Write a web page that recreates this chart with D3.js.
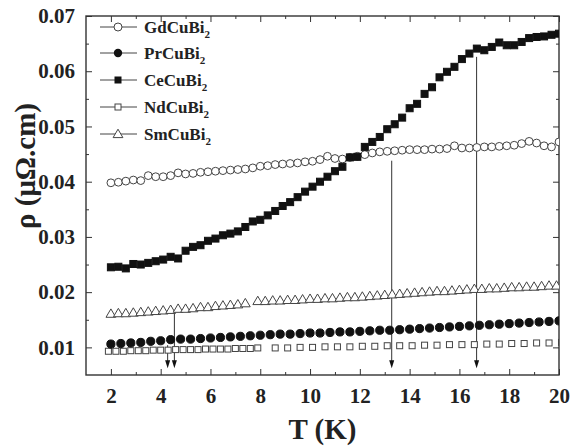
<!DOCTYPE html>
<html lang="en">
<head>
<meta charset="UTF-8" />
<title>rho vs T</title>
<style>
  body { margin: 0; background: #fff; }
  text { font-family: "Liberation Serif", "Times New Roman", serif; font-weight: bold; fill: #222; }
</style>
</head>
<body>
<script src="https://d3js.org/d3.v7.min.js"></script>
<script>
// data
const tStep03 = [2.0, 2.3, 2.6, 2.9, 3.2, 3.5, 3.8, 4.1, 4.4, 4.7, 5.0, 5.3, 5.6, 5.9, 6.2, 6.5, 6.8, 7.1, 7.4, 7.7,
  8.0, 8.3, 8.6, 8.9, 9.2, 9.5, 9.8, 10.1, 10.4, 10.7, 11.0, 11.3, 11.6, 11.9, 12.2, 12.5, 12.8, 13.1, 13.4, 13.7,
  14.0, 14.3, 14.6, 14.9, 15.2, 15.5, 15.8, 16.1, 16.4, 16.7, 17.0, 17.3, 17.6, 17.9, 18.2, 18.5, 18.8, 19.1, 19.4, 19.7, 20.0]

const rhoGd = [0.0398, 0.0399, 0.0401, 0.0403, 0.0402, 0.0411, 0.0409, 0.0409, 0.0411, 0.0416, 0.0414, 0.0415, 0.0417, 0.0418,
  0.0419, 0.0420, 0.0421, 0.0422, 0.0423, 0.0425, 0.0428, 0.0429, 0.0431, 0.0432, 0.0433, 0.0434, 0.0436, 0.0437, 0.0440,
  0.0446, 0.0442, 0.0441, 0.0444, 0.0446, 0.0449, 0.0452, 0.0454, 0.0455, 0.0456, 0.0457, 0.0458, 0.0458, 0.0458, 0.0459,
  0.0459, 0.0460, 0.0465, 0.0461, 0.0461, 0.0462, 0.0463, 0.0463, 0.0464, 0.0465, 0.0466, 0.0469, 0.0473, 0.0470, 0.0465,
  0.0463, 0.0472]

const rhoCe = [0.0245, 0.0246, 0.0243, 0.0251, 0.0250, 0.0253, 0.0256, 0.0259, 0.0264, 0.0261, 0.0275, 0.0282, 0.0285, 0.0293,
  0.0297, 0.0303, 0.0306, 0.0310, 0.0318, 0.0328, 0.0331, 0.0339, 0.0347, 0.0356, 0.0363, 0.0372, 0.0382, 0.0391, 0.0400,
  0.0409, 0.0419, 0.0427, 0.0444, 0.0445, 0.0463, 0.0472, 0.0481, 0.0495, 0.0504, 0.0516, 0.0533, 0.0541, 0.0559, 0.0571,
  0.0589, 0.0599, 0.0608, 0.0622, 0.0632, 0.0641, 0.0638, 0.0644, 0.0652, 0.0647, 0.0647, 0.0653, 0.0660, 0.0662, 0.0663,
  0.0666, 0.0668]

const tPr = [2.0, 2.4, 2.8, 3.2, 3.6, 4.0, 4.4, 4.8, 5.2, 5.6, 6.0, 6.4, 6.8, 7.2, 7.6, 8.0, 8.4, 8.8, 9.2, 9.6, 10.0, 10.4,
  10.8, 11.2, 11.6, 12.0, 12.4, 12.8, 13.2, 13.6, 14.0, 14.4, 14.8, 15.2, 15.6, 16.0, 16.4, 16.8, 17.2, 17.6, 18.0, 18.4,
  18.8, 19.2, 19.6, 20.0]
const rhoPr = [0.0106, 0.0107, 0.0108, 0.0109, 0.0111, 0.0112, 0.0114, 0.0115, 0.0115, 0.0116, 0.0117, 0.0118, 0.0119, 0.0120,
  0.0121, 0.0122, 0.0123, 0.0124, 0.0124, 0.0125, 0.0126, 0.0126, 0.0127, 0.0128, 0.0128, 0.0129, 0.0130, 0.0131, 0.0131,
  0.0132, 0.0133, 0.0134, 0.0135, 0.0136, 0.0137, 0.0138, 0.0139, 0.0140, 0.0141, 0.0142, 0.0143, 0.0144, 0.0145, 0.0146,
  0.0147, 0.0148]

const tNd = [1.9, 2.2, 2.5, 2.8, 3.1, 3.4, 3.7, 4.0, 4.3, 4.6, 4.9, 5.2, 5.5, 5.8, 6.1, 6.4, 6.7, 7.0, 7.3, 7.6, 7.9,
  8.6, 9.1, 9.6, 10.1, 10.6, 11.1, 11.6, 12.1, 12.6, 13.1, 13.6, 14.1, 14.6, 15.1, 15.6, 16.1, 16.6, 17.1, 17.6, 18.1,
  18.6, 19.1, 19.6, 20.1]
const rhoNd = [0.0093, 0.0093, 0.0093, 0.0094, 0.0094, 0.0094, 0.0095, 0.0095, 0.0095, 0.0096, 0.0096, 0.0096, 0.0096, 0.0097,
  0.0097, 0.0097, 0.0097, 0.0098, 0.0098, 0.0098, 0.0099,
  0.0099, 0.0099, 0.0100, 0.0100, 0.0101, 0.0101, 0.0101, 0.0102, 0.0102, 0.0103, 0.0103, 0.0103, 0.0104, 0.0104, 0.0105,
  0.0105, 0.0105, 0.0106, 0.0106, 0.0107, 0.0107, 0.0108, 0.0108, 0.0109]

const tSm = [2.0, 2.3, 2.6, 2.9, 3.2, 3.5, 3.8, 4.1, 4.4, 4.7, 5.0, 5.3, 5.6, 5.9, 6.2, 6.5, 6.8, 7.1, 7.4,
  7.9, 8.2, 8.5, 8.8, 9.1, 9.4, 9.7, 10.0, 10.3, 10.6, 10.9, 11.2, 11.5, 11.8, 12.1, 12.4, 12.7, 13.0, 13.3, 13.6, 13.9,
  14.2, 14.5, 14.8, 15.1, 15.4, 15.7, 16.0, 16.3, 16.6, 16.9, 17.2, 17.5, 17.8, 18.1, 18.4, 18.7, 19.0, 19.3, 19.6, 19.9]
const rhoSm = [0.0161, 0.0162, 0.0162, 0.0163, 0.0164, 0.0165, 0.0166, 0.0167, 0.0168, 0.0170, 0.0170, 0.0171, 0.0173, 0.0173,
  0.0175, 0.0176, 0.0177, 0.0178, 0.0180,
  0.0184, 0.0184, 0.0185, 0.0185, 0.0186, 0.0186, 0.0187, 0.0188, 0.0188, 0.0189, 0.0189, 0.0190, 0.0191, 0.0191, 0.0192,
  0.0193, 0.0194, 0.0195, 0.0196, 0.0197, 0.0198, 0.0199, 0.0200, 0.0201, 0.0202, 0.0202, 0.0203, 0.0204, 0.0205, 0.0206,
  0.0206, 0.0207, 0.0207, 0.0208, 0.0209, 0.0209, 0.0210, 0.0210, 0.0211, 0.0212, 0.0212]

const legendNames = ["GdCuBi", "PrCuBi", "CeCuBi", "NdCuBi", "SmCuBi"]
const xTickLabels = [2, 4, 6, 8, 10, 12, 14, 16, 18, 20]
const xMinorTicks = [3, 5, 7, 9, 11, 13, 15, 17, 19]
const yTickLabels = [0.01, 0.02, 0.03, 0.04, 0.05, 0.06, 0.07]
const yMinorTicks = [0.015, 0.025, 0.035, 0.045, 0.055, 0.065]
// transition arrows: temperature, start value
const arrowT = [4.28, 4.55, 13.28, 16.69]
const arrowFrom = [0.0104, 0.0163, 0.0438, 0.0626]
const arrowTip = 0.0062

const width = 571
const height = 446
const margin = { top: 16, right: 12, bottom: 71, left: 86 }

const svg = d3.select("body").append("svg")
  .attr("width", width)
  .attr("height", height)

const x = d3.scaleLinear().domain([1, 20]).range([margin.left, width - margin.right])
const y = d3.scaleLinear().domain([0.005, 0.07]).range([height - margin.bottom, margin.top])

svg.append("clipPath").attr("id", "plotclip")
  .append("rect")
  .attr("x", margin.left).attr("y", margin.top)
  .attr("width", width - margin.left - margin.right)
  .attr("height", height - margin.top - margin.bottom)

// axes, ticks inside
const axColor = "#333"
function styleAxis(g) {
  g.select(".domain").remove()
  g.selectAll(".tick line").attr("stroke", axColor).attr("stroke-width", 1)
  g.selectAll(".tick text").attr("fill", "#222").style("font-size", "21px")
    .style("font-family", "'Liberation Serif', serif").style("font-weight", "bold")
}

const yBot = height - margin.bottom
const xRight = width - margin.right

svg.append("g").attr("transform", `translate(0,${yBot})`)
  .call(d3.axisBottom(x).tickValues(xTickLabels).tickSize(-6).tickPadding(13).tickFormat(d3.format("d")))
  .call(styleAxis)
svg.append("g").attr("transform", `translate(0,${yBot})`)
  .call(d3.axisBottom(x).tickValues(xMinorTicks).tickSize(-3).tickFormat(""))
  .call(styleAxis)
svg.append("g").attr("transform", `translate(0,${margin.top})`)
  .call(d3.axisTop(x).tickValues(xTickLabels).tickSize(-6).tickFormat(""))
  .call(styleAxis)
svg.append("g").attr("transform", `translate(0,${margin.top})`)
  .call(d3.axisTop(x).tickValues(xMinorTicks).tickSize(-3).tickFormat(""))
  .call(styleAxis)

svg.append("g").attr("transform", `translate(${margin.left},0)`)
  .call(d3.axisLeft(y).tickValues(yTickLabels).tickSize(-6).tickPadding(11).tickFormat(d3.format(".2f")))
  .call(styleAxis)
svg.append("g").attr("transform", `translate(${margin.left},0)`)
  .call(d3.axisLeft(y).tickValues(yMinorTicks).tickSize(-3).tickFormat(""))
  .call(styleAxis)
svg.append("g").attr("transform", `translate(${xRight},0)`)
  .call(d3.axisRight(y).tickValues(yTickLabels).tickSize(-6).tickFormat(""))
  .call(styleAxis)
svg.append("g").attr("transform", `translate(${xRight},0)`)
  .call(d3.axisRight(y).tickValues(yMinorTicks).tickSize(-3).tickFormat(""))
  .call(styleAxis)

svg.append("rect")
  .attr("x", margin.left).attr("y", margin.top)
  .attr("width", xRight - margin.left).attr("height", yBot - margin.top)
  .attr("fill", "none").attr("stroke", axColor).attr("stroke-width", 1.4)

// axis titles
svg.append("text")
  .attr("x", (margin.left + xRight) / 2)
  .attr("y", 439)
  .attr("text-anchor", "middle")
  .style("font-size", "29px")
  .text("T (K)")

svg.append("text")
  .attr("transform", "translate(35,166) rotate(-90)")
  .attr("text-anchor", "middle")
  .style("font-size", "29px")
  .text("ρ (μΩ.cm)")

// markers
const ink = "#111"
const openStroke = "#444"
const plot = svg.append("g").attr("clip-path", "url(#plotclip)")

// arrows first, markers over them
arrowT.forEach((t, i) => {
  const ax = x(t)
  plot.append("line")
    .attr("x1", ax).attr("x2", ax)
    .attr("y1", y(arrowFrom[i])).attr("y2", y(arrowTip) - 6)
    .attr("stroke", "#333").attr("stroke-width", 1)
  plot.append("path")
    .attr("d", `M${ax - 2.5},${y(arrowTip) - 8} L${ax + 2.5},${y(arrowTip) - 8} L${ax},${y(arrowTip)} Z`)
    .attr("fill", "#111")
})

const triPath = "M0,-4.8 L4.9,3.6 L-4.9,3.6 Z"

function drawCircles(ts, vals, r, fill, stroke) {
  plot.append("g").selectAll("circle")
    .data(ts.map((t, i) => [t, vals[i]]))
    .join("circle")
    .attr("cx", d => x(d[0])).attr("cy", d => y(d[1]))
    .attr("r", r)
    .attr("fill", fill).attr("stroke", stroke).attr("stroke-width", 1)
}
function drawSquares(ts, vals, s, fill, stroke) {
  plot.append("g").selectAll("rect")
    .data(ts.map((t, i) => [t, vals[i]]))
    .join("rect")
    .attr("x", d => x(d[0]) - s / 2).attr("y", d => y(d[1]) - s / 2)
    .attr("width", s).attr("height", s)
    .attr("fill", fill).attr("stroke", stroke).attr("stroke-width", 1)
}
function drawTriangles(ts, vals) {
  plot.append("g").selectAll("path")
    .data(ts.map((t, i) => [t, vals[i]]))
    .join("path")
    .attr("transform", d => `translate(${x(d[0])},${y(d[1])})`)
    .attr("d", triPath)
    .attr("fill", "#fff").attr("stroke", openStroke).attr("stroke-width", 1)
}

drawSquares(tNd, rhoNd, 6, "#fff", openStroke)
drawCircles(tPr, rhoPr, 4.1, ink, ink)
drawTriangles(tSm, rhoSm)
drawCircles(tStep03, rhoGd, 3.9, "#fff", openStroke)
drawSquares(tStep03, rhoCe, 7, ink, ink)

// legend
const legend = svg.append("g")
const rowY = [27, 53, 80, 107, 134]
legendNames.forEach((name, i) => {
  const g = legend.append("g").attr("transform", `translate(0,${rowY[i]})`)
  g.append("line").attr("x1", 100).attr("x2", 137).attr("y1", 0).attr("y2", 0)
    .attr("stroke", "#444").attr("stroke-width", 1)
  if (i === 0) g.append("circle").attr("cx", 118).attr("r", 4).attr("fill", "#fff").attr("stroke", openStroke)
  if (i === 1) g.append("circle").attr("cx", 118).attr("r", 4.2).attr("fill", ink)
  if (i === 2) g.append("rect").attr("x", 114.5).attr("y", -3.5).attr("width", 7).attr("height", 7).attr("fill", ink)
  if (i === 3) g.append("rect").attr("x", 115).attr("y", -3).attr("width", 6).attr("height", 6).attr("fill", "#fff").attr("stroke", openStroke)
  if (i === 4) g.append("path").attr("transform", "translate(118,0)").attr("d", triPath).attr("fill", "#fff").attr("stroke", openStroke)
  const t = g.append("text").attr("x", 144).attr("y", 6).style("font-size", "17px")
  t.append("tspan").text(name)
  t.append("tspan").attr("dy", 5).style("font-size", "11px").text("2")
})
</script>
</body>
</html>
